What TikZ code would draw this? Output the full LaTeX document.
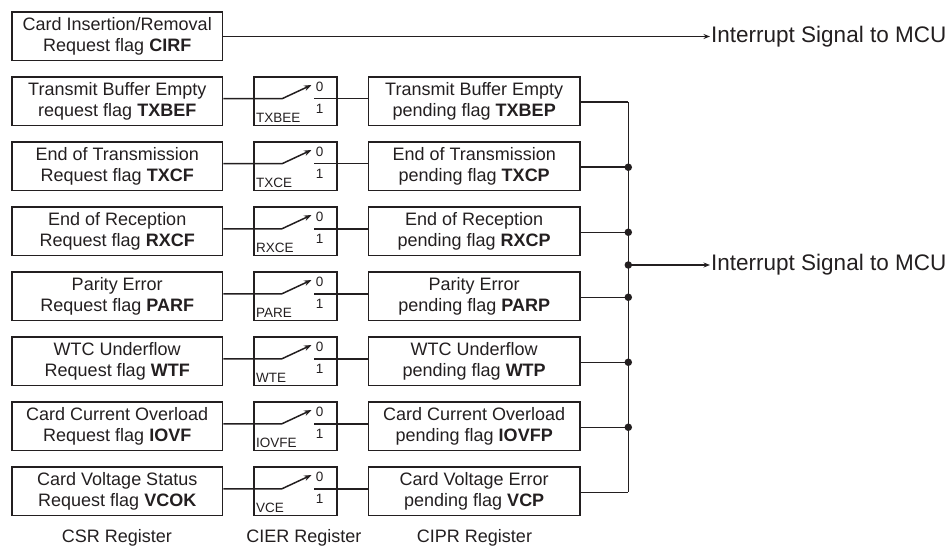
\documentclass[tikz,border=0pt]{standalone}
\usepackage{fontspec}
\setmainfont{Liberation Sans}
\usetikzlibrary{arrows.meta,calc}
\definecolor{ink}{HTML}{231F20}
\tikzset{
  reg/.style={draw=ink, line width=1.5pt, minimum width=210.5pt, minimum height=48.5pt,
    align=center, inner sep=0pt, text=ink, font=\fontsize{18}{21.5}\selectfont},
  swbox/.style={draw=ink, line width=1.5pt, minimum width=83pt, minimum height=48.5pt, inner sep=0pt},
  tiny/.style={inner sep=0pt, text=ink, font=\fontsize{13.5}{15}\selectfont},
  wire/.style={draw=ink, line width=1.5pt},
  bigtxt/.style={inner sep=0pt, text=ink, font=\fontsize{22.5}{26}\selectfont},
  foot/.style={inner sep=0pt, text=ink, font=\fontsize{18}{21}\selectfont},
  dotn/.style={circle, fill=ink, inner sep=0pt, minimum size=7.5pt}
}
\newcommand\flagrow[4]{%
  \pgfmathsetmacro\rT{12+65*#1}%
  \pgfmathsetmacro\rC{\rT+24.25}%
  \node[reg] (csr#1) at (117.25,\rC) {#2};
  \node[swbox] (sw#1) at (295.5,\rC) {};
  \node[reg, minimum width=211.7pt] (cipr#1) at (474.2,\rC) {#4};
  \coordinate (piv#1) at (282,\rC-2.5);
  \coordinate (tip#1) at (311.5,\rT+8);
  \coordinate (out#1) at (314,\rC-2.5);
  \coordinate (bus#1) at (628.3,\rC+1);
  \node[tiny] (zero#1) at (319.5,\rT+9.5) {0};
  \node[tiny] (one#1) at (319.5,\rT+32) {1};
  \node[tiny, anchor=west] (en#1) at (256,\rT+40.5) {#3};
  \draw[wire, -{Stealth[length=7.5pt,width=5.5pt]}] (csr#1.east |- piv#1) -- (piv#1) -- (tip#1);
  \draw[wire] (out#1) -- (cipr#1.west |- out#1);
  \draw[wire] (cipr#1.east |- bus#1) -- (bus#1);
}
\begin{document}
\begin{tikzpicture}[x=1pt,y=-1pt]
\useasboundingbox (0,0) rectangle (952,548);
% CIRF row
\node[reg] (csr0) at (117.25,36.25) {Card Insertion/Removal\\Request flag \textbf{CIRF}};
\coordinate (irqa) at (710,36.5);
\draw[wire, -{Stealth[length=6.5pt,width=5pt]}] (csr0.east |- irqa) -- (irqa);
\node[bigtxt, anchor=west] (irqtxta) at ($(irqa)+(1,0)$) {Interrupt Signal to MCU};

\flagrow{1}{Transmit Buffer Empty\\request flag \textbf{TXBEF}}{TXBEE}{Transmit Buffer Empty\\pending flag \textbf{TXBEP}}
\flagrow{2}{End of Transmission\\Request flag \textbf{TXCF}}{TXCE}{End of Transmission\\pending flag \textbf{TXCP}}
\flagrow{3}{End of Reception\\Request flag \textbf{RXCF}}{RXCE}{End of Reception\\pending flag \textbf{RXCP}}
\flagrow{4}{Parity Error\\Request flag \textbf{PARF}}{PARE}{Parity Error\\pending flag \textbf{PARP}}
\flagrow{5}{WTC Underflow\\Request flag \textbf{WTF}}{WTE}{WTC Underflow\\pending flag \textbf{WTP}}
\flagrow{6}{Card Current Overload\\Request flag \textbf{IOVF}}{IOVFE}{Card Current Overload\\pending flag \textbf{IOVFP}}
\flagrow{7}{Card Voltage Status\\Request flag \textbf{VCOK}}{VCE}{Card Voltage Error\\pending flag \textbf{VCP}}

% bus
\draw[wire, line join=miter] (bus1) -- (bus7);
\foreach \i in {2,...,6} \node[dotn] at (bus\i) {};
\coordinate (junc) at (628.3,265);
\node[dotn] (jdot) at (junc) {};
\coordinate (irqb) at (710,265);
\draw[wire, -{Stealth[length=6.5pt,width=5pt]}] (junc) -- (irqb);
\node[bigtxt, anchor=west] (irqtxtb) at ($(irqb)+(1,0)$) {Interrupt Signal to MCU};

% footers
\node[foot] (fcsr) at (117,538) {CSR Register};
\node[foot] (fcier) at (304,538) {CIER Register};
\node[foot] (fcipr) at (474.5,538) {CIPR Register};
\end{tikzpicture}
\end{document}
